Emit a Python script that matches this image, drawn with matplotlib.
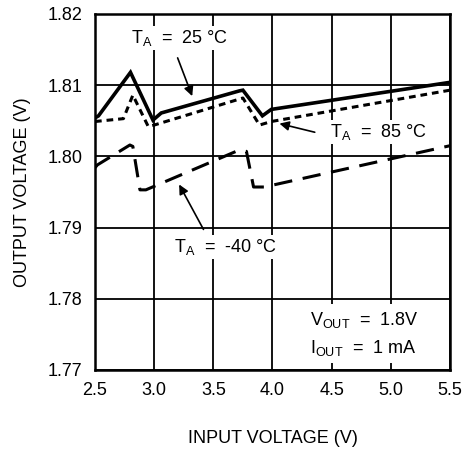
import matplotlib
matplotlib.use('Agg')
import matplotlib.pyplot as plt

plt.rcParams['font.family'] = ['Liberation Sans', 'DejaVu Sans']
plt.rcParams['mathtext.fontset'] = 'custom'
plt.rcParams['mathtext.rm'] = 'Liberation Sans'
plt.rcParams['mathtext.it'] = 'Liberation Sans'

# data
vin_25 = [2.50, 2.53, 2.80, 2.99, 3.06, 3.72, 3.75, 3.915, 3.99, 5.50]
vout_25 = [1.8054, 1.8057, 1.8118, 1.8051, 1.8061, 1.8092, 1.8093, 1.8057, 1.8066, 1.8104]

vin_85 = [2.50, 2.74, 2.82, 2.95, 3.00, 3.75, 3.89, 3.99, 5.50]
vout_85 = [1.8049, 1.8053, 1.8086, 1.8042, 1.8044, 1.8082, 1.8044, 1.8049, 1.8093]

vin_m40 = [2.50, 2.52, 2.795, 2.82, 2.88, 2.93, 3.72, 3.78, 3.84, 3.93, 5.50]
vout_m40 = [1.7984, 1.7988, 1.8016, 1.8014, 1.7953, 1.7953, 1.8009, 1.8007, 1.7957, 1.7957, 1.8015]

xticks = [2.5, 3.0, 3.5, 4.0, 4.5, 5.0, 5.5]
yticks = [1.77, 1.78, 1.79, 1.80, 1.81, 1.82]
ylabels = ['1.77', '1.78', '1.79', '1.80', '1.81', '1.82']

fig = plt.figure(figsize=(4.64, 4.5), dpi=100)
ax = fig.add_axes([0.2047, 0.1778, 0.7651, 0.7911])

ax.plot(vin_25, vout_25, color='black', lw=2.6, solid_joinstyle='miter')
ax.plot(vin_85, vout_85, color='black', lw=2.2, dashes=(2.2, 1.6))
ax.plot(vin_m40, vout_m40, color='black', lw=2.2, dashes=(6, 3.5))

ax.set_xlim(2.5, 5.5)
ax.set_ylim(1.77, 1.82)
ax.set_xticks(xticks)
ax.set_xticklabels(['%.1f' % t for t in xticks])
ax.set_yticks(yticks)
ax.set_yticklabels(ylabels)
ax.tick_params(length=0, labelsize=13, pad=9)
ax.grid(True, color='black', lw=1.3)
ax.set_axisbelow(True)
for s in ax.spines.values():
    s.set_linewidth(1.8)

ax.set_xlabel('INPUT VOLTAGE (V)', fontsize=13, labelpad=22)
ax.set_ylabel('OUTPUT VOLTAGE (V)', fontsize=13, labelpad=12)

box = dict(facecolor='white', edgecolor='none', pad=1.5)
arrow = dict(arrowstyle='-|>', color='black', lw=1.2, mutation_scale=14)

ax.text(3.217, 1.8166, r'$\mathrm{T_A}$  =  25 °C', fontsize=13, ha='center', va='center', bbox=box, zorder=5)
ax.annotate('', xy=(3.33, 1.8081), xytext=(3.19, 1.8142), arrowprops=arrow, zorder=6)

ax.text(4.897, 1.8034, r'$\mathrm{T_A}$  =  85 °C', fontsize=13, ha='center', va='center', bbox=box, zorder=5)
ax.annotate('', xy=(4.036, 1.8047), xytext=(4.38, 1.8033), arrowprops=arrow, zorder=6)

ax.text(3.605, 1.7873, r'$\mathrm{T_A}$  =  -40 °C', fontsize=13, ha='center', va='center', bbox=box, zorder=5)
ax.annotate('', xy=(3.2, 1.7964), xytext=(3.428, 1.7894), arrowprops=arrow, zorder=6)

ax.text(4.314, 1.7751, r'$\mathrm{V_{OUT}}$  =  1.8V' + '\n' + r'$\mathrm{I_{OUT}}$  =  1 mA',
        fontsize=13, ha='left', va='center', linespacing=1.55,
        bbox=dict(facecolor='white', edgecolor='none', pad=4), zorder=5)

fig.savefig('out.png', dpi=100)
